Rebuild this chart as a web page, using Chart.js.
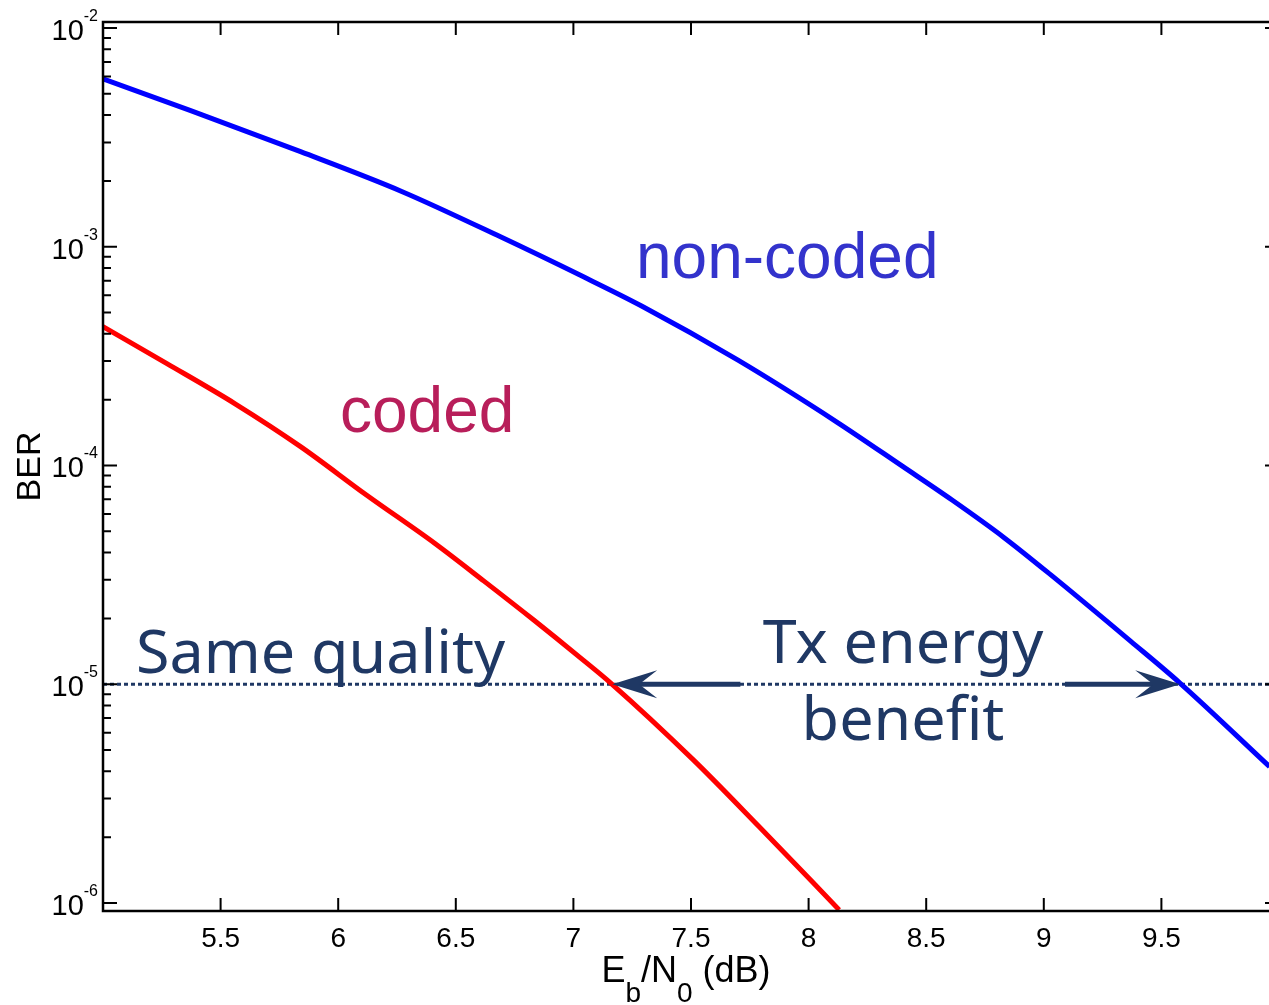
<!DOCTYPE html>
<html>
<head>
<meta charset="utf-8">
<script src="https://cdn.jsdelivr.net/npm/chart.js@4.4.0/dist/chart.umd.min.js"></script>
<style>
html,body{margin:0;padding:0;background:#fff;overflow:hidden;}
#wrap{width:1300px;height:1005px;}
</style>
</head>
<body>
<div id="wrap"><canvas id="berChart" width="1300" height="1005"></canvas></div>
<script>
// valores (Eb/N0 en dB, BER)
const ebN0Uncoded = [5.0, 5.37, 5.84, 6.27, 6.69, 7.03, 7.29, 7.70, 8.12, 8.40, 8.61, 8.83, 9.03, 9.37, 9.58, 9.96];
const berUncoded  = [5.85e-3, 4.2e-3, 2.72e-3, 1.79e-3, 1.11e-3, 7.4e-4, 5.36e-4, 3.03e-4, 1.58e-4, 9.9e-5, 6.95e-5, 4.69e-5, 3.16e-5, 1.57e-5, 1.01e-5, 4.2e-6];
const ebN0Coded = [5.0, 5.27, 5.56, 5.84, 6.12, 6.41, 6.62, 6.83, 7.03, 7.16, 7.51, 7.79, 8.13];
const berCoded  = [4.31e-4, 2.93e-4, 1.92e-4, 1.22e-4, 7.33e-5, 4.41e-5, 2.96e-5, 1.97e-5, 1.32e-5, 1.01e-5, 4.51e-6, 2.23e-6, 9.3e-7];

const xTicks = [5.5, 6, 6.5, 7, 7.5, 8, 8.5, 9, 9.5];
const xTickLabels = ['5.5', '6', '6.5', '7', '7.5', '8', '8.5', '9', '9.5'];
const yDecades = [-6, -5, -4, -3, -2];
const yMinorMult = [2, 3, 4, 5, 6, 7, 8, 9];

const targetBer = 1e-5;
const refLineX = [5, 10];
// flechas: desde la cola hasta la punta (en dB)
const arrowLeft = [7.71, 7.165];
const arrowRight = [9.09, 9.58];

const NAVY = '#1F3864';
const SANS = '"Liberation Sans", Arial, sans-serif';

function toXY(xs, ys){ return xs.map((v,i)=>({x:v, y:ys[i]})); }

function drawArrow(ctx, x0, x1, py){
  const d = x1 > x0 ? 1 : -1;
  ctx.strokeStyle = NAVY; ctx.fillStyle = NAVY; ctx.lineWidth = 5;
  ctx.beginPath(); ctx.moveTo(x0, py); ctx.lineTo(x1 - d*26, py); ctx.stroke();
  ctx.beginPath();
  ctx.moveTo(x1, py);
  ctx.lineTo(x1 - d*45, py - 14);
  ctx.lineTo(x1 - d*27, py);
  ctx.lineTo(x1 - d*45, py + 14);
  ctx.closePath(); ctx.fill();
}

const berDecor = {
  id: 'berDecor',
  afterDatasetsDraw(chart){
    const {ctx, chartArea: a, scales: {x, y}} = chart;
    ctx.save();

    // marco
    ctx.strokeStyle = '#000'; ctx.lineWidth = 2.5;
    ctx.strokeRect(a.left, a.top, a.right - a.left, a.bottom - a.top);

    // ticks hacia dentro
    ctx.lineWidth = 2;
    ctx.beginPath();
    xTicks.forEach(v=>{
      const px = x.getPixelForValue(v);
      ctx.moveTo(px, a.bottom); ctx.lineTo(px, a.bottom - 13);
      ctx.moveTo(px, a.top); ctx.lineTo(px, a.top + 13);
    });
    yDecades.forEach(e=>{
      const py = y.getPixelForValue(Math.pow(10, e));
      ctx.moveTo(a.left, py); ctx.lineTo(a.left + 14, py);
      ctx.moveTo(a.right, py); ctx.lineTo(a.right - 14, py);
      yMinorMult.forEach(m=>{
        const v = m * Math.pow(10, e);
        if (v > y.max) return;
        const pm = y.getPixelForValue(v);
        ctx.moveTo(a.left, pm); ctx.lineTo(a.left + 8, pm);
        ctx.moveTo(a.right, pm); ctx.lineTo(a.right - 8, pm);
      });
    });
    ctx.stroke();

    // etiquetas eje x
    ctx.fillStyle = '#000';
    ctx.font = '28px ' + SANS;
    ctx.textAlign = 'center'; ctx.textBaseline = 'alphabetic';
    xTicks.forEach((v,i)=> ctx.fillText(xTickLabels[i], x.getPixelForValue(v), a.bottom + 36));

    // etiquetas eje y (10^n)
    yDecades.forEach(e=>{
      const py = y.getPixelForValue(Math.pow(10, e));
      ctx.textAlign = 'left';
      ctx.font = '29px ' + SANS;
      const w10 = ctx.measureText('10').width;
      ctx.font = '16px ' + SANS;
      const wExp = ctx.measureText(String(e)).width;
      const x0 = a.left - 5 - w10 - wExp;
      ctx.font = '29px ' + SANS;
      ctx.fillText('10', x0, py + 12);
      ctx.font = '16px ' + SANS;
      ctx.fillText(String(e), x0 + w10, py - 7);
    });

    // titulo eje x: Eb/N0 (dB)
    const parts = [['E',36,0],['b',28,20],['/N',36,0],['0',28,20],[' (dB)',36,0]];
    let total = 0;
    parts.forEach(p=>{ ctx.font = p[1]+'px ' + SANS; total += ctx.measureText(p[0]).width; });
    let cx = (a.left + a.right)/2 - 5 - total/2;
    const base = a.bottom + 71;
    parts.forEach(p=>{
      ctx.font = p[1]+'px ' + SANS;
      ctx.fillText(p[0], cx, base + p[2]);
      cx += ctx.measureText(p[0]).width;
    });

    // titulo eje y
    ctx.save();
    ctx.translate(40, (a.top + a.bottom)/2);
    ctx.rotate(-Math.PI/2);
    ctx.textAlign = 'center';
    ctx.font = '34px ' + SANS;
    ctx.fillText('BER', 0, 0);
    ctx.restore();

    // flechas
    const pyRef = y.getPixelForValue(targetBer);
    drawArrow(ctx, x.getPixelForValue(arrowLeft[0]), x.getPixelForValue(arrowLeft[1]), pyRef);
    drawArrow(ctx, x.getPixelForValue(arrowRight[0]), x.getPixelForValue(arrowRight[1]), pyRef);

    // textos
    ctx.textAlign = 'left';
    ctx.font = '64px ' + SANS;
    ctx.fillStyle = '#3333CC';
    ctx.fillText('non-coded', 636, 278);
    ctx.fillStyle = '#B81E5A';
    ctx.fillText('coded', 340, 432);

    ctx.fillStyle = NAVY;
    ctx.font = '61px "Noto Sans", "Open Sans", sans-serif';
    ctx.fillText('Same quality', 136, 673);
    ctx.textAlign = 'center';
    ctx.fillText('Tx energy', 903, 663);
    ctx.fillText('benefit', 903, 740);

    ctx.restore();
  }
};

new Chart(document.getElementById('berChart').getContext('2d'), {
  type: 'line',
  data: {
    datasets: [
      { label: 'non-coded', data: toXY(ebN0Uncoded, berUncoded), borderColor: '#0000FF', borderWidth: 5, pointRadius: 0, cubicInterpolationMode: 'monotone' },
      { label: 'coded', data: toXY(ebN0Coded, berCoded), borderColor: '#FF0000', borderWidth: 5, pointRadius: 0, cubicInterpolationMode: 'monotone' },
      { label: 'ref', data: toXY(refLineX, [targetBer, targetBer]), borderColor: NAVY, borderWidth: 3, borderDash: [4,3], pointRadius: 0 }
    ]
  },
  options: {
    responsive: false,
    animation: false,
    layout: { padding: { left: 103, top: 22, right: 21, bottom: 94 } },
    plugins: { legend: { display: false }, tooltip: { enabled: false } },
    scales: {
      x: { type: 'linear', min: 5, max: 10, display: false },
      y: { type: 'logarithmic', min: 9.19e-7, max: 1.0652e-2, display: false }
    }
  },
  plugins: [berDecor]
});
</script>
</body>
</html>
